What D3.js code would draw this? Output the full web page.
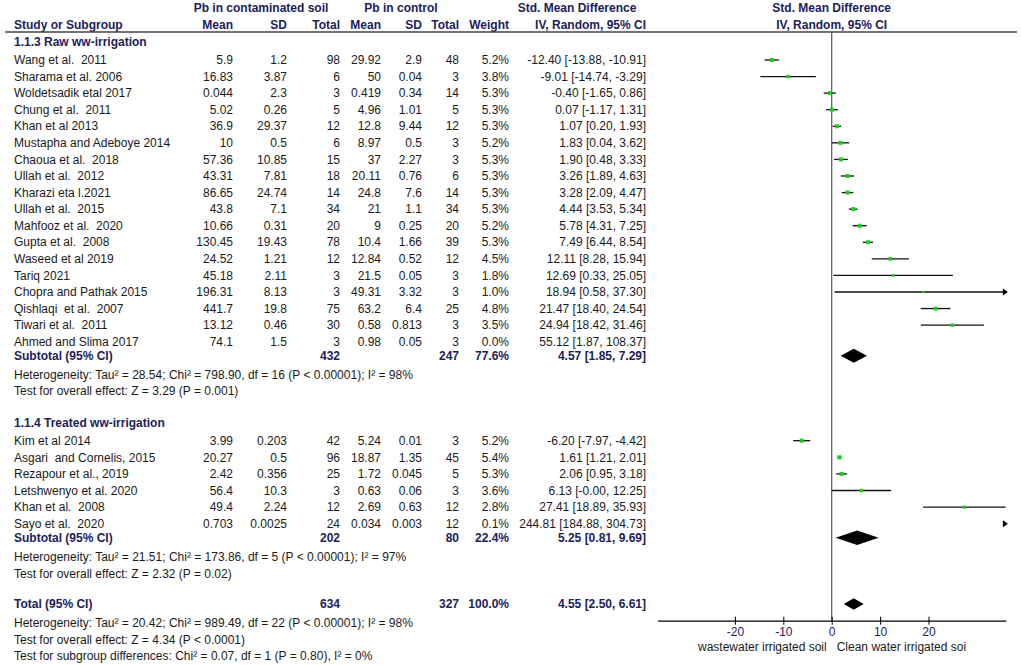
<!DOCTYPE html>
<html>
<head>
<meta charset="utf-8">
<script src="https://cdn.jsdelivr.net/npm/d3@7"></script>
<style>
  body { margin: 0; background: #fff; }
  svg { font-family: "Liberation Sans", Arial, sans-serif; font-size: 12px; }
  text { white-space: pre; }
  .hd { fill: #1c2159; font-weight: bold; }
  .tx { fill: #1a1a1a; }
</style>
</head>
<body>
<div id="chart"></div>
<script>
// raw wastewater irrigation studies
const rawStudies = ["Wang et al.  2011", "Sharama et al. 2006", "Woldetsadik etal 2017", "Chung et al.  2011",
  "Khan et al 2013", "Mustapha and Adeboye 2014", "Chaoua et al.  2018", "Ullah et al.  2012", "Kharazi eta l.2021",
  "Ullah et al.  2015", "Mahfooz et al.  2020", "Gupta et al.  2008", "Waseed et al 2019", "Tariq 2021",
  "Chopra and Pathak 2015", "Qishlaqi  et al.  2007", "Tiwari et al.  2011", "Ahmed and Slima 2017"]
const rawMeanA = [5.9, 16.83, 0.044, 5.02, 36.9, 10, 57.36, 43.31, 86.65, 43.8, 10.66, 130.45, 24.52, 45.18, 196.31, 441.7, 13.12, 74.1]
const rawSdA = [1.2, 3.87, 2.3, 0.26, 29.37, 0.5, 10.85, 7.81, 24.74, 7.1, 0.31, 19.43, 1.21, 2.11, 8.13, 19.8, 0.46, 1.5]
const rawNA = [98, 6, 3, 5, 12, 6, 15, 18, 14, 34, 20, 78, 12, 3, 3, 75, 30, 3]
const rawMeanB = [29.92, 50, 0.419, 4.96, 12.8, 8.97, 37, 20.11, 24.8, 21, 9, 10.4, 12.84, 21.5, 49.31, 63.2, 0.58, 0.98]
const rawSdB = [2.9, 0.04, 0.34, 1.01, 9.44, 0.5, 2.27, 0.76, 7.6, 1.1, 0.25, 1.66, 0.52, 0.05, 3.32, 6.4, 0.813, 0.05]
const rawNB = [48, 3, 14, 5, 12, 3, 3, 6, 14, 34, 20, 39, 12, 3, 3, 25, 3, 3]
const rawWeight = [5.2, 3.8, 5.3, 5.3, 5.3, 5.2, 5.3, 5.3, 5.3, 5.3, 5.2, 5.3, 4.5, 1.8, 1.0, 4.8, 3.5, 0.0]
const rawSmd = [-12.40, -9.01, -0.40, 0.07, 1.07, 1.83, 1.90, 3.26, 3.28, 4.44, 5.78, 7.49, 12.11, 12.69, 18.94, 21.47, 24.94, 55.12]
const rawLo = [-13.88, -14.74, -1.65, -1.17, 0.20, 0.04, 0.48, 1.89, 2.09, 3.53, 4.31, 6.44, 8.28, 0.33, 0.58, 18.40, 18.42, 1.87]
const rawHi = [-10.91, -3.29, 0.86, 1.31, 1.93, 3.62, 3.33, 4.63, 4.47, 5.34, 7.25, 8.54, 15.94, 25.05, 37.30, 24.54, 31.46, 108.37]

// treated wastewater irrigation studies
const trtStudies = ["Kim et al 2014", "Asgari  and Cornelis, 2015", "Rezapour et al., 2019", "Letshwenyo et al. 2020",
  "Khan et al.  2008", "Sayo et al.  2020"]
const trtMeanA = [3.99, 20.27, 2.42, 56.4, 49.4, 0.703]
const trtSdA = [0.203, 0.5, 0.356, 10.3, 2.24, 0.0025]
const trtNA = [42, 96, 25, 3, 12, 24]
const trtMeanB = [5.24, 18.87, 1.72, 0.63, 2.69, 0.034]
const trtSdB = [0.01, 1.35, 0.045, 0.06, 0.63, 0.003]
const trtNB = [3, 45, 5, 3, 12, 12]
const trtWeight = [5.2, 5.4, 5.3, 3.6, 2.8, 0.1]
const trtSmd = [-6.20, 1.61, 2.06, 6.13, 27.41, 244.81]
const trtLo = [-7.97, 1.21, 0.95, -0.004, 18.89, 184.88]
const trtHi = [-4.42, 2.01, 3.18, 12.25, 35.93, 304.73]

// pooled results: raw subtotal, treated subtotal, total
const poolLabels = ["Subtotal (95% CI)", "Subtotal (95% CI)", "Total (95% CI)"]
const poolNA = [432, 202, 634]
const poolNB = [247, 80, 327]
const poolWeight = [77.6, 22.4, 100.0]
const poolSmd = [4.57, 5.25, 4.55]
const poolLo = [1.85, 0.81, 2.50]
const poolHi = [7.29, 9.69, 6.61]
const poolNotes = [
  ["Heterogeneity: Tau\u00b2 = 28.54; Chi\u00b2 = 798.90, df = 16 (P < 0.00001); I\u00b2 = 98%", "Test for overall effect: Z = 3.29 (P = 0.001)"],
  ["Heterogeneity: Tau\u00b2 = 21.51; Chi\u00b2 = 173.86, df = 5 (P < 0.00001); I\u00b2 = 97%", "Test for overall effect: Z = 2.32 (P = 0.02)"],
  ["Heterogeneity: Tau\u00b2 = 20.42; Chi\u00b2 = 989.49, df = 22 (P < 0.00001); I\u00b2 = 98%", "Test for overall effect: Z = 4.34 (P < 0.0001)",
   "Test for subgroup differences: Chi\u00b2 = 0.07, df = 1 (P = 0.80), I\u00b2 = 0%"]
]
const groupTitles = ["1.1.3 Raw ww-irrigation", "1.1.4 Treated ww-irrigation"]
const axisTicks = [-20, -10, 0, 10, 20]
const axisLabels = ["wastewater irrigated soil", "Clean water irrigated soi"]

const width = 1021, height = 665
const svg = d3.select("#chart").append("svg").attr("width", width).attr("height", height)

const x = d3.scaleLinear().domain([-36, 36]).range([657.5, 1005.9])
const axisY = 620.7
const rowH = 16.6

// right edges of the text columns
const cols = { mean1: 233, sd1: 287, n1: 340, mean2: 381, sd2: 422, n2: 459, w: 509, ci: 646 }

function txt(g, xx, yy, s, anchor, cls) {
  return g.append("text").attr("x", xx).attr("y", yy).attr("dy", "0.35em")
    .attr("text-anchor", anchor || "start").attr("class", cls || "tx").text(s)
}
const ciText = (m, lo, hi) => m.toFixed(2) + " [" + lo.toFixed(2) + ", " + hi.toFixed(2) + "]"

// header
txt(svg, 261, 7.5, "Pb in contaminated soil", "middle", "hd")
txt(svg, 401, 7.5, "Pb in control", "middle", "hd")
txt(svg, 577, 7.5, "Std. Mean Difference", "middle", "hd")
txt(svg, 831.7, 7.5, "Std. Mean Difference", "middle", "hd")
txt(svg, 14, 24.5, "Study or Subgroup", "start", "hd")
txt(svg, cols.mean1, 24.5, "Mean", "end", "hd")
txt(svg, cols.sd1, 24.5, "SD", "end", "hd")
txt(svg, cols.n1, 24.5, "Total", "end", "hd")
txt(svg, cols.mean2, 24.5, "Mean", "end", "hd")
txt(svg, cols.sd2, 24.5, "SD", "end", "hd")
txt(svg, cols.n2, 24.5, "Total", "end", "hd")
txt(svg, cols.w, 24.5, "Weight", "end", "hd")
txt(svg, cols.ci, 24.5, "IV, Random, 95% CI", "end", "hd")
txt(svg, 831.7, 24.5, "IV, Random, 95% CI", "middle", "hd")
svg.append("line").attr("x1", 5).attr("x2", 1017).attr("y1", 32).attr("y2", 32)
  .attr("stroke", "#444").attr("stroke-width", 1.5)

// zero line
svg.append("line").attr("x1", x(0)).attr("x2", x(0)).attr("y1", 32).attr("y2", axisY)
  .attr("stroke", "#555").attr("stroke-width", 1.2)

const plot = svg.append("g")

function arrowRight(yy) {
  const xe = x.range()[1] + 2
  plot.append("path").attr("d", `M${xe - 5},${yy - 3.5}L${xe},${yy}L${xe - 5},${yy + 3.5}Z`).attr("fill", "#000")
}

function studyRow(y, name, ma, sa, na, mb, sb, nb, w, m, lo, hi) {
  txt(svg, 14, y, name)
  txt(svg, cols.mean1, y, String(ma), "end")
  txt(svg, cols.sd1, y, String(sa), "end")
  txt(svg, cols.n1, y, String(na), "end")
  txt(svg, cols.mean2, y, String(mb), "end")
  txt(svg, cols.sd2, y, String(sb), "end")
  txt(svg, cols.n2, y, String(nb), "end")
  txt(svg, cols.w, y, w.toFixed(1) + "%", "end")
  txt(svg, cols.ci, y, ciText(m, lo, hi), "end")
  if (w === 0) return
  const [d0, d1] = x.domain()
  if (lo > d1) { arrowRight(y); return }
  const a = Math.max(lo, d0), b = Math.min(hi, d1)
  plot.append("line").attr("x1", x(a)).attr("x2", x(b)).attr("y1", y).attr("y2", y)
    .attr("stroke", "#111").attr("stroke-width", 1.3)
  if (hi > d1) arrowRight(y)
  const s = 1.4 * Math.sqrt(w) + 0.8
  plot.append("rect").attr("x", x(m) - s / 2).attr("y", y - s / 2).attr("width", s).attr("height", s)
    .attr("fill", "#1fcc1f")
}

function poolRow(y, k, h) {
  txt(svg, 14, y, poolLabels[k], "start", "hd")
  txt(svg, cols.n1, y, String(poolNA[k]), "end", "hd")
  txt(svg, cols.n2, y, String(poolNB[k]), "end", "hd")
  txt(svg, cols.w, y, poolWeight[k].toFixed(1) + "%", "end", "hd")
  txt(svg, cols.ci, y, ciText(poolSmd[k], poolLo[k], poolHi[k]), "end", "hd")
  plot.append("path")
    .attr("d", `M${x(poolLo[k])},${y}L${x(poolSmd[k])},${y - h}L${x(poolHi[k])},${y}L${x(poolSmd[k])},${y + h}Z`)
    .attr("fill", "#000")
}

// group 1
txt(svg, 14, 42, groupTitles[0], "start", "hd")
let y0 = 60
rawStudies.forEach((n, i) => studyRow(y0 + i * 16.57, n, rawMeanA[i], rawSdA[i], rawNA[i], rawMeanB[i], rawSdB[i],
  rawNB[i], rawWeight[i], rawSmd[i], rawLo[i], rawHi[i]))
poolRow(355.7, 0, 7)
txt(svg, 14, 374.3, poolNotes[0][0])
txt(svg, 14, 391, poolNotes[0][1])

// group 2
txt(svg, 14, 422.3, groupTitles[1], "start", "hd")
y0 = 440.7
trtStudies.forEach((n, i) => studyRow(y0 + i * rowH, n, trtMeanA[i], trtSdA[i], trtNA[i], trtMeanB[i], trtSdB[i],
  trtNB[i], trtWeight[i], trtSmd[i], trtLo[i], trtHi[i]))
poolRow(537.7, 1, 7.3)
txt(svg, 14, 556.7, poolNotes[1][0])
txt(svg, 14, 573.3, poolNotes[1][1])

// total
poolRow(604, 2, 5.8)
txt(svg, 14, 622.7, poolNotes[2][0])
txt(svg, 14, 639.3, poolNotes[2][1])
txt(svg, 14, 656, poolNotes[2][2])

// axis
const axis = svg.append("g").attr("transform", `translate(0,${axisY})`)
  .call(d3.axisBottom(x).tickValues(axisTicks).tickFormat(d => String(d))
    .tickSizeOuter(0).tickSizeInner(4).tickPadding(3))
axis.select(".domain").attr("stroke", "#000").attr("stroke-width", 1.3)
axis.selectAll(".tick line").attr("y1", -4).attr("y2", 4).attr("stroke", "#000")
axis.selectAll(".tick text").attr("font-size", 12).attr("font-family", "Liberation Sans, Arial, sans-serif")
  .attr("fill", "#1c2159").attr("dy", "0.71em")
txt(svg, x(0) - 5, 647, axisLabels[0], "end", "tx").attr("fill", "#1c2159")
txt(svg, x(0) + 5, 647, axisLabels[1], "start", "tx").attr("fill", "#1c2159")
</script>
</body>
</html>
